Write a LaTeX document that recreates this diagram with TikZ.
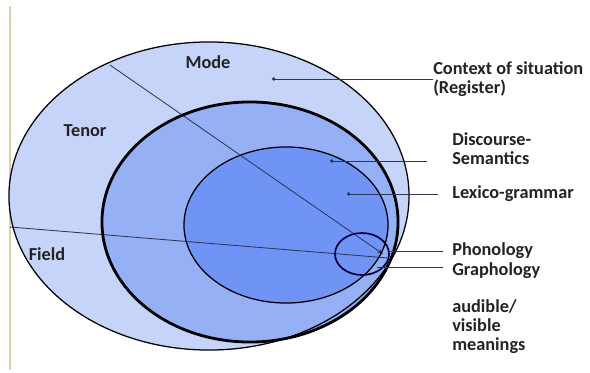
\documentclass[tikz,border=0pt]{standalone}
\usepackage{fontspec}
\setmainfont{Carlito}
\usetikzlibrary{arrows.meta}

\definecolor{outerblue}{RGB}{198,212,250}
\definecolor{midblue}{RGB}{150,176,246}
\definecolor{innerblue}{RGB}{112,148,246}
\definecolor{linegray}{RGB}{45,55,85}
\definecolor{textgray}{RGB}{35,35,35}
\definecolor{margintan}{RGB}{222,205,175}

\begin{document}
\begin{tikzpicture}[x=0.025cm,y=-0.025cm,>=Stealth,
    label text/.style={font=\bfseries\fontsize{13}{13.5}\selectfont,text=textgray,
      anchor=west,inner sep=0pt,align=left},
    pointer/.style={draw=linegray,line width=0.6pt},
    ring/.style={draw=black,line width=0.9pt}]

\useasboundingbox (0,0) rectangle (590,373);
\draw[margintan,line width=1.2pt] (10,6) -- (10,370);

% nested layers
\fill[outerblue] (209,196) ellipse [x radius=5cm, y radius=3.85cm];
\fill[midblue] (250,222) ellipse [x radius=3.7cm, y radius=3cm];
\fill[innerblue] (286,225) ellipse [x radius=2.55cm, y radius=1.95cm];

% register dividers
\coordinate (mode-top) at (110,65);
\coordinate (mode-tip) at (383,254);
\coordinate (field-left) at (10,227);
\coordinate (field-end) at (388,258);
\draw[pointer,-{Stealth[length=4pt]}] (mode-top) -- (mode-tip);
\draw[pointer] (field-left) -- (field-end);

\draw[ring] (209,196) ellipse [x radius=5cm, y radius=3.85cm];
\draw[ring,line width=2pt] (250,222) ellipse [x radius=3.7cm, y radius=3cm];
\draw[ring] (286,225) ellipse [x radius=2.55cm, y radius=1.95cm];
\draw[ring,draw=black!75!blue,line width=1.2pt] (362,254) ellipse [x radius=0.675cm, y radius=0.525cm];

% labels inside
\node[label text] (mode) at (208,62) [anchor=center] {Mode};
\node[label text] (tenor) at (85,131) [anchor=center] {Tenor};
\node[label text] (field) at (47,254) [anchor=center] {Field};

% labels on the right
\node[label text] (ctx) at (433,79) {Context of situation\\(Register)};
\node[label text] (disc) at (452,149) {Discourse-\\Semantics};
\node[label text] (lexgram) at (452,194) {Lexico-grammar};
\node[label text] (phon) at (452,251) {Phonology};
\node[label text] (graph) at (452,271) {Graphology};
\node[label text] (meanings) at (452,327) {audible/\\visible\\meanings};

\coordinate (ctx-dot) at (272,79);
\coordinate (disc-dot) at (330,161);
\coordinate (lexgram-dot) at (347,194);
\coordinate (phon-dot) at (389,251);
\coordinate (graph-dot) at (377,267);

\draw[pointer,{Circle[length=2.5pt]}-] (ctx-dot) -- (ctx-dot -| ctx.west);
\draw[pointer,{Circle[length=2.5pt]}-,shorten >=0.62cm] (disc-dot) -- (disc-dot -| disc.west);
\draw[pointer,{Circle[length=2.5pt]}-,shorten >=0.35cm] (lexgram-dot) -- (lexgram-dot -| lexgram.west);
\draw[pointer,shorten >=0.22cm] (phon-dot) -- (phon-dot -| phon.west);
\draw[pointer,shorten >=0.22cm] (graph-dot) -- (graph-dot -| graph.west);

\end{tikzpicture}
\end{document}
